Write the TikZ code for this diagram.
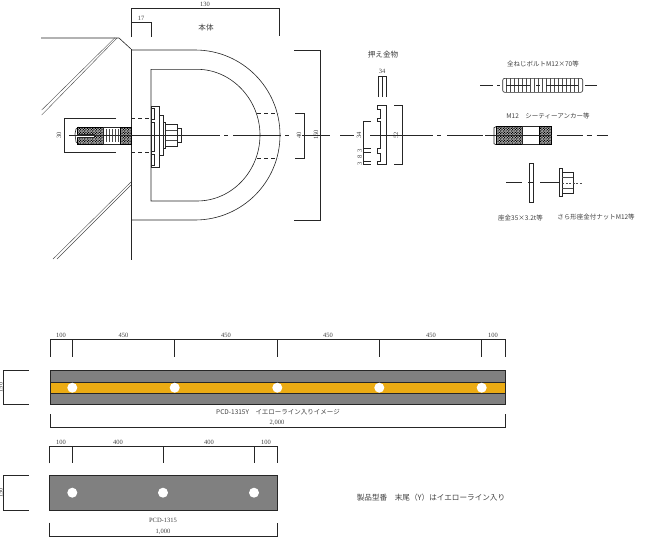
\documentclass[tikz,border=0pt]{standalone}
\usepackage{fontspec}
\setmainfont{Liberation Serif}
\newfontfamily\cjk{Noto Sans CJK JP}
\usetikzlibrary{patterns}
\definecolor{barline}{HTML}{EBAB13}
\definecolor{bargray}{HTML}{808080}
\definecolor{labelink}{HTML}{404040}
\pgfdeclarepatternformonly{finedots}{\pgfqpoint{-0.5pt}{-0.5pt}}{\pgfqpoint{1.6pt}{1.6pt}}{\pgfqpoint{1.6pt}{1.6pt}}{
\pgfpathrectangle{\pgfqpoint{0pt}{0pt}}{\pgfqpoint{0.8pt}{0.8pt}}
\pgfpathrectangle{\pgfqpoint{0.8pt}{0.8pt}}{\pgfqpoint{0.8pt}{0.8pt}}
\pgfusepath{fill}}

\begin{document}
\begin{tikzpicture}[x=1pt,y=-1pt,
line/.style={line width=0.6pt,black!85},
thinline/.style={line width=0.4pt,black!70},
dashline/.style={line width=0.6pt,black!85,dash pattern=on 4pt off 3pt},
hatch/.style={line width=0.5pt,draw=black,pattern=finedots,pattern color=black},
label/.style={inner sep=0pt,font=\fontsize{6.5}{7}\selectfont,text=labelink},
jlabel/.style={inner sep=0pt,font=\cjk\fontsize{6.5}{7}\selectfont,text=labelink},
jtitle/.style={inner sep=0pt,font=\cjk\fontsize{7.6}{8}\selectfont,text=labelink},
plate/.style={line width=1pt,draw=black!85,fill=bargray},
hole/.style={fill=white,circle,inner sep=0pt,minimum width=10pt}]
\useasboundingbox (0,0) rectangle (649,549);

% wall
\draw[line] (41,38) -- (119,38) -- (131,49);
\draw[line] (131,49) -- (131,260);
\draw[thinline] (41.7,110) -- (115,37.7);
\draw[thinline] (41.7,115) -- (117,38);
\draw[thinline] (53,259) -- (131,182);
\draw[thinline] (57,259) -- (131,185);

% body
\draw[line] (131,50) -- (195,50) .. controls (242,50) and (280,88) .. (280,135)
 .. controls (280,182) and (242,220) .. (195,220) -- (131,220);
\draw[line] (197,69.3) -- (151,69.3) -- (151,201) -- (197,201)
 .. controls (232,201) and (260,171) .. (260,135)
 .. controls (260,100) and (232,69.3) .. (197,69.3);
\draw[dashline] (257,113) -- (278,113);
\draw[dashline] (257,158) -- (278,158);
\draw[dashline] (131,118) -- (151,118);
\draw[dashline] (131,152.5) -- (151,152.5);
\node[jtitle] (bodytitle) at (206,28) {本体};

% body dimensions
\draw[line] (131,37) -- (131,8) -- (279,8) -- (279,36);
\draw[line] (131,22) -- (151,22) -- (151,37);
\node[label] (dimwidth) at (205,4) {130};
\node[label] (dimlip) at (141,18.5) {17};
\draw[line] (294,50) -- (320,50) -- (320,220) -- (294,220);
\node[label,rotate=90] (dimheight) at (316,135) {150};
\draw[line] (295,113) -- (304,113) -- (304,158) -- (295,158);
\node[label,rotate=90] (dimhole) at (299,135) {40};
\draw[line] (116,118) -- (64,118) -- (64,152.5) -- (116,152.5);
\node[label,rotate=90] (dimanchor) at (59,135) {30};

% fitted anchor
\draw[line] (79,127) -- (76,129) -- (75,134) -- (76,142) -- (79,144);
\draw[hatch] (77,127) rectangle (103,144);
\draw[line,fill=white] (103,127) rectangle (120,144);
\draw[hatch] (120,127) rectangle (131,144);
\foreach \x in {106,109,112,115,118} \draw[thinline] (\x,129) -- (\x,142);
\draw[line,fill=white] (77,134) -- (94,134) -- (94,137) -- (77,137);

% plate, washer, nut
\draw[line,fill=white] (151,106) rectangle (159,167);
\foreach \a/\b in {108/119,122/151,154/165} \draw[line] (151,\a) -- (154.5,\a) -- (154.5,\b) -- (151,\b);
\draw[line,fill=white] (159,115) rectangle (163,155);
\draw[line,fill=white] (163,122) rectangle (165.5,148);
\draw[line,fill=white] (165.5,124) rectangle (177,146);
\draw[thinline] (165.5,130) -- (177,130) (165.5,140) -- (177,140);
\draw[line,fill=white] (177,128) rectangle (181,142);

% centre line
\draw[line] (69,135) -- (220,135);
\draw[line] (224,135) -- (228,135);
\draw[line] (233,135) -- (281,135);
\draw[line] (285,135) -- (289,135);
\draw[line] (302,135) -- (330,135);

% press fitting
\node[jtitle] (presstitle) at (383,55) {押え金物};
\draw[line] (378,97) -- (378,76) -- (386.7,76) -- (386.7,97);
\draw[line] (382,76) -- (382,97);
\node[label] (dimpress) at (382,71) {34};
\draw[line] (386.7,105.7) -- (377.7,105.7) -- (377.7,109) -- (380.7,109) -- (380.7,118.3) -- (377.7,118.3)
 -- (377.7,121) -- (380.7,121) -- (380.7,148.3) -- (377.7,148.3) -- (377.7,153.3) -- (380.7,153.3)
 -- (380.7,161.7) -- (377.7,161.7) -- (377.7,164.7) -- (386.7,164.7) -- cycle;
\draw[line] (394.3,105.7) -- (402.3,105.7) -- (402.3,164.7) -- (394.3,164.7);
\node[label,rotate=90] (dimplate) at (396,135.5) {52};
\draw[line] (371,121) -- (363,121) -- (363,164.7) -- (371,164.7);
\foreach \y in {148.3,152,161.7} \draw[line] (363,\y) -- (371,\y);
\node[label,rotate=90] (dimgap) at (359,135) {34};
\node[label,rotate=90] (dimnotcha) at (359.7,150.7) {3};
\node[label,rotate=90] (dimnotchb) at (359.7,157) {8};
\node[label,rotate=90] (dimnotchc) at (359.7,163.7) {3};
\draw[line] (340,135.5) -- (354,135.5);
\draw[line] (370,135.5) -- (433,135.5);
\draw[line] (437,135.5) -- (441,135.5);
\draw[line] (447,135.5) -- (483,135.5);
\draw[line] (485,135.5) -- (488,135.5);

% threaded bolt
\node[jlabel] (bolttitle) at (543,64.3) {全ねじボルトM12×70等};
\draw[line,rounded corners=2pt] (502.7,78.3) rectangle (582.7,92.3);
\foreach \x in {506,510,...,580} \draw[thinline] (\x,78.3) -- (\x,92.3);
\draw[line] (480,85) -- (493,85);
\draw[line] (497,85) -- (500,85);
\draw[line] (506,85) -- (530,85);
\draw[line] (536,85) -- (540,85);
\draw[line] (546,85) -- (578,85);
\draw[line] (585,85) -- (597,85);

% anchor
\node[jlabel] (anchortitle) at (548,116) {M12\quad シーティーアンカー等};
\draw[line] (496,126.7) -- (494,127.7) -- (494,143.7) -- (496,144.7);
\draw[hatch] (496,126.7) rectangle (522.7,144.7);
\draw[line] (522.7,126.7) rectangle (539.3,144.7);
\draw[hatch] (539.3,126.7) rectangle (551.7,144.7);
\draw[line] (488,135.5) -- (552,135.5);
\draw[line] (556.7,135.5) -- (582.7,135.5);
\draw[line] (586.7,135.5) -- (591.7,135.5);
\draw[line] (596.7,135.5) -- (608.3,135.5);

% washer and nut
\draw[line] (529.3,163.3) rectangle (533.3,202.3);
\draw[line] (506,182.7) -- (522.3,182.7);
\draw[line] (528,182.7) -- (534,182.7);
\draw[line] (540,182.7) -- (560,182.7);
\draw[line] (559.3,168.7) rectangle (562.3,196);
\draw[line] (562.3,172.3) rectangle (573.3,193.3);
\draw[thinline] (562.3,177) -- (573.3,177) (562.3,188) -- (573.3,188);
\draw[thinline,dash pattern=on 2pt off 1.5pt] (562.3,182.7) -- (583,182.7);
\node[jlabel] (washertitle) at (520.5,217.7) {座金35×3.2t等};
\node[jlabel] (nuttitle) at (596,217) {さら形座金付ナットM12等};

% long bar
\draw[line] (50,356.7) -- (50,339.3) -- (505,339.3) -- (505,356.7);
\foreach \x in {72.3,174.7,277.3,379.3,481.7} \draw[line] (\x,339.3) -- (\x,356.7);
\foreach \x/\t in {61/100,123.5/450,226/450,328/450,431/450,493/100} \node[label] at (\x,335) {\t};
\draw[plate] (50,370.7) rectangle (505,404.3);
\draw[line,fill=barline] (50,382) rectangle (505,393.3);
\foreach \x in {72.3,174.7,277.3,379.3,481.7} \node[hole] at (\x,387.7) {};
\draw[line] (28.7,370.7) -- (3,370.7) -- (3,404.3) -- (28.7,404.3);
\node[label,rotate=90] (dimlongside) at (0.5,387.5) {150};
\node[jlabel] (longtitle) at (278,412) {PCD-1315Y\quad イエローライン入りイメージ};
\draw[line] (50,414) -- (50,427.3) -- (505,427.3) -- (505,414);
\node[label] (dimlong) at (277,423.3) {2,000};

% short bar
\draw[line] (49.5,463.3) -- (49.5,446.7) -- (277,446.7) -- (277,463.3);
\foreach \x in {72.3,163.3,254} \draw[line] (\x,446.7) -- (\x,463.3);
\foreach \x/\t in {61/100,118/400,209/400,266/100} \node[label] at (\x,442.7) {\t};
\draw[plate] (49.5,475.7) rectangle (277.5,510);
\foreach \x in {72.3,163,254} \node[hole] at (\x,492.7) {};
\draw[line] (28.7,475.5) -- (3,475.5) -- (3,510) -- (28.7,510);
\node[label,rotate=90] (dimshortside) at (0.5,492.7) {150};
\node[label] (shorttitle) at (163,520.7) {PCD-1315};
\draw[line] (49.5,522.7) -- (49.5,536.7) -- (277,536.7) -- (277,522.7);
\node[label] (dimshort) at (163,531.7) {1,000};

\node[jtitle] (modelnote) at (431,497.3) {製品型番\quad 末尾（Y）はイエローライン入り};
\end{tikzpicture}
\end{document}
